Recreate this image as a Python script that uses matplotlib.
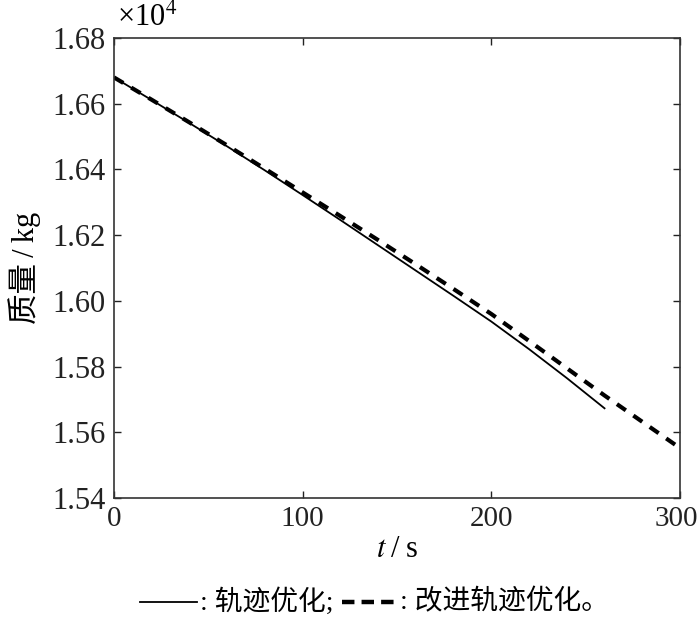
import matplotlib.pyplot as plt
from matplotlib.lines import Line2D
from matplotlib.transforms import ScaledTranslation

plt.rcParams['font.family'] = ['Liberation Serif', 'Noto Sans CJK SC']
plt.rcParams['mathtext.fontset'] = 'stix'

# datos (massa em 10^4 kg)
t_traj = [0, 20, 40, 60, 80, 100, 120, 140, 160, 180, 200, 220, 240, 260]
m_traj = [1.6680, 1.6611, 1.6541, 1.6470, 1.6397, 1.6322, 1.6246, 1.6169,
          1.6092, 1.6015, 1.5937, 1.5853, 1.5765, 1.5673]

t_melh = [0, 20, 40, 60, 80, 100, 120, 140, 160, 180, 200, 220, 240, 260, 280, 300]
m_melh = [1.6680, 1.6612, 1.6543, 1.6473, 1.6402, 1.6330, 1.6258, 1.6185,
          1.6111, 1.6036, 1.5960, 1.5878, 1.5795, 1.5712, 1.5632, 1.5552]

xticks = [0, 100, 200, 300]
yticks = [1.54, 1.56, 1.58, 1.60, 1.62, 1.64, 1.66, 1.68]

fig = plt.figure(figsize=(7, 6.18), dpi=100)
ax = fig.add_axes([114 / 700, 1 - 498 / 618, 566 / 700, 460 / 618])

ax.plot(t_traj, m_traj, color='black', lw=1.3)
ax.plot(t_melh, m_melh, color='black', lw=3.0, dashes=(2.6, 2.2))

ax.set_xlim(0, 300)
ax.set_ylim(1.54, 1.68)
ax.set_xticks(xticks)
ax.set_yticks(yticks)
ax.set_xticklabels([str(v) for v in xticks])
ax.set_yticklabels([f'{v:.2f}' for v in yticks])
ax.tick_params(direction='in', length=5, width=1, labelsize=22, colors='#222222',
               top=True, right=True, pad=6)
ax.tick_params(axis='x', labelsize=21)
for s in ax.spines.values():
    s.set_linewidth(1.2)
    s.set_color('#333333')

# o "300" encosta na borda; puxa um pouco pra esquerda
ult = ax.get_xticklabels()[-1]
ult.set_transform(ult.get_transform() + ScaledTranslation(-4 / 100, 0, fig.dpi_scale_trans))

ax.set_xlabel('$t$\u2009/\u2009s', fontsize=22, labelpad=2)
ax.set_ylabel('质量\u2009/\u2009kg', fontsize=22, labelpad=8)
fig.text(117 / 700, 1 - 17 / 618, r'×10$^4$', fontsize=22, va='center', ha='left')

# legenda embaixo
yl = 1 - 602 / 618
fig.add_artist(Line2D([140 / 700, 197 / 700], [yl, yl], color='black', lw=1.3))
fig.text(200 / 700, yl, ': 轨迹优化;', fontsize=20, va='center', ha='left')
fig.add_artist(Line2D([342 / 700, 398 / 700], [yl, yl], color='black', lw=3.2,
                      dashes=(2.8, 1.6)))
fig.text(400 / 700, yl, ': 改进轨迹优化。', fontsize=20, va='center', ha='left')

fig.savefig('out.png', dpi=100)
